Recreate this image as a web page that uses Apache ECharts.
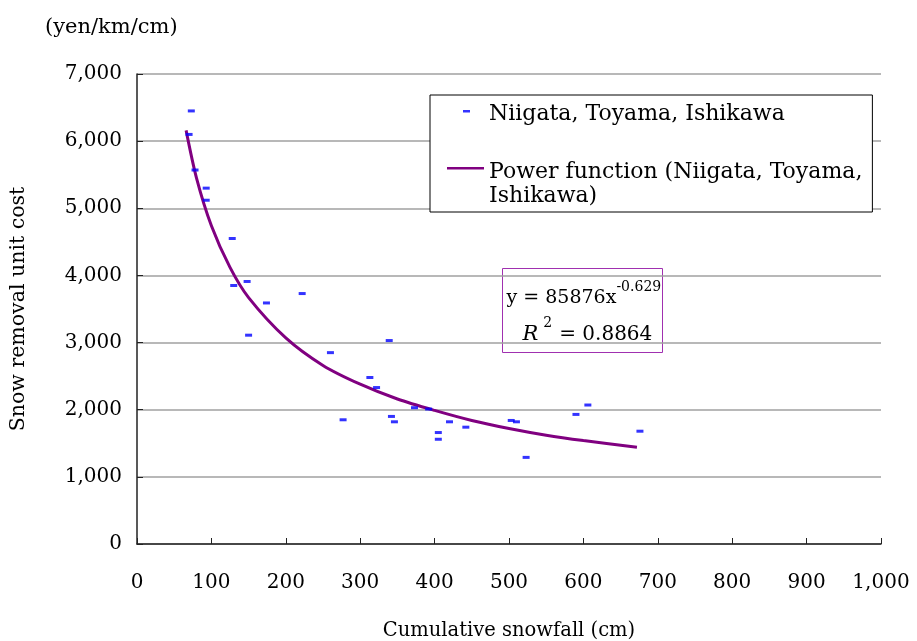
<!DOCTYPE html>
<html>
<head>
<meta charset="utf-8">
<title>Snow removal unit cost vs cumulative snowfall</title>
<script src="https://cdn.jsdelivr.net/npm/echarts@6.0.0/dist/echarts.min.js"></script>
<style>
  html, body { margin: 0; padding: 0; background: #fff; }
  #chart { width: 917px; height: 641px; }
</style>
</head>
<body>
<div id="chart"></div>
<script>
// observed points (cumulative snowfall cm, unit cost yen/km/cm)
const snowfall = [73, 70, 78, 93, 93, 128, 130, 148, 174, 150, 222, 260, 339, 313, 322,
  277, 373, 392, 342, 346, 420, 442, 405, 405, 503, 510, 523, 590, 606, 676];
const unitCost = [6450, 6100, 5570, 5300, 5120, 4550, 3850, 3910, 3590, 3110, 3730, 2850, 3030, 2480, 2330,
  1850, 2030, 2010, 1900, 1820, 1820, 1740, 1660, 1560, 1840, 1820, 1290, 1930, 2070, 1680];

// power trend line
const trendX = [66, 80, 100, 125, 150, 200, 250, 300, 350, 400, 450, 500, 550, 600, 672];
const trendY = [6160, 5450, 4740, 4120, 3670, 3070, 2660, 2380, 2160, 1990, 1840, 1720, 1620, 1540, 1440];

const xTicks = { min: 0, max: 1000, interval: 100 };
const yTicks = { min: 0, max: 7000, interval: 1000 };

const pointsName = 'Niigata, Toyama, Ishikawa';
const trendName = 'Power function (Niigata, Toyama, Ishikawa)';

const FONT = '"DejaVu Serif", "Liberation Serif", serif';
const fmt = v => v.toLocaleString('en-US');

const chart = echarts.init(document.getElementById('chart'));

const option = {
  animation: false,
  textStyle: { fontFamily: FONT, color: '#000' },
  grid: { left: 137, right: 36, top: 74, bottom: 97, containLabel: false, outerBoundsMode: 'none' },
  legend: {
    orient: 'vertical',
    left: 430,
    top: 95,
    padding: [2, 10, 4, 17],
    backgroundColor: '#fff',
    borderColor: '#000',
    borderWidth: 1,
    borderRadius: 0,
    itemWidth: 37,
    itemHeight: 34,
    itemGap: 29,
    selectedMode: false,
    textStyle: { fontFamily: FONT, fontSize: 22, color: '#000', lineHeight: 24 },
    formatter: name => name === trendName ? 'Power function (Niigata, Toyama,\nIshikawa)' : name,
    data: [
      { name: pointsName, icon: 'path://M0,0M16,13h7v2.5h-7zM37,34' },
      { name: trendName, icon: 'path://M0,0h37v2.5h-37zM37,34', itemStyle: { borderWidth: 0 } }
    ]
  },
  xAxis: {
    type: 'value',
    min: xTicks.min,
    max: xTicks.max,
    interval: xTicks.interval,
    name: 'Cumulative snowfall (cm)',
    nameLocation: 'middle',
    nameGap: 77,
    nameTextStyle: { fontFamily: FONT, fontSize: 19.5, color: '#000' },
    axisLine: { lineStyle: { color: '#222', width: 1.5 } },
    axisTick: { inside: true, length: 6, lineStyle: { color: '#222' } },
    axisLabel: { margin: 29, fontFamily: FONT, fontSize: 20, color: '#000', formatter: fmt },
    splitLine: { show: false }
  },
  yAxis: {
    type: 'value',
    min: yTicks.min,
    max: yTicks.max,
    interval: yTicks.interval,
    name: 'Snow removal unit cost',
    nameLocation: 'middle',
    nameGap: 108,
    nameTextStyle: { fontFamily: FONT, fontSize: 20.5, color: '#000' },
    axisLine: { show: true, lineStyle: { color: '#222', width: 1.5 } },
    axisTick: { show: true, inside: true, length: 6, lineStyle: { color: '#222' } },
    axisLabel: { margin: 15, fontFamily: FONT, fontSize: 20, color: '#000', formatter: fmt },
    splitLine: { lineStyle: { color: '#a0a0a0', width: 1.5 } }
  },
  series: [
    {
      name: pointsName,
      type: 'scatter',
      symbol: 'rect',
      symbolSize: [7, 3],
      itemStyle: { color: '#0000ff' },
      data: snowfall.map((x, i) => [x, unitCost[i]]),
      z: 3
    },
    {
      name: trendName,
      type: 'line',
      smooth: 0.3,
      showSymbol: false,
      symbol: 'none',
      lineStyle: { color: '#800080', width: 3 },
      itemStyle: { color: '#800080' },
      data: trendX.map((x, i) => [x, trendY[i]]),
      z: 2
    }
  ],
  graphic: [
    {
      type: 'text',
      left: 45,
      top: 17,
      style: { text: '(yen/km/cm)', font: '21px ' + FONT, fill: '#000' }
    },
    {
      type: 'group',
      left: 502,
      top: 268,
      children: [
        {
          type: 'rect',
          shape: { x: 0, y: 0, width: 160, height: 84 },
          style: { fill: '#fff', stroke: '#a030b0', lineWidth: 1 }
        },
        {
          type: 'text',
          x: 4,
          y: 12,
          style: {
            text: '{m|y = 85876x}{s|-0.629}\n{i|R}{s2|2}{m2|= 0.8864}',
            fill: '#000',
            rich: {
              m: { fontFamily: FONT, fontSize: 19, lineHeight: 36, verticalAlign: 'middle' },
              s: { fontFamily: FONT, fontSize: 14, lineHeight: 14, verticalAlign: 'top' },
              i: { fontFamily: FONT, fontSize: 21, fontStyle: 'italic', lineHeight: 36, padding: [0, 0, 0, 16] },
              s2: { fontFamily: FONT, fontSize: 14, lineHeight: 14, verticalAlign: 'top', padding: [0, 0, 0, 5] },
              m2: { fontFamily: FONT, fontSize: 20, lineHeight: 36, verticalAlign: 'middle', padding: [0, 0, 0, 7] }
            }
          }
        }
      ]
    }
  ]
};

chart.setOption(option);
</script>
</body>
</html>
